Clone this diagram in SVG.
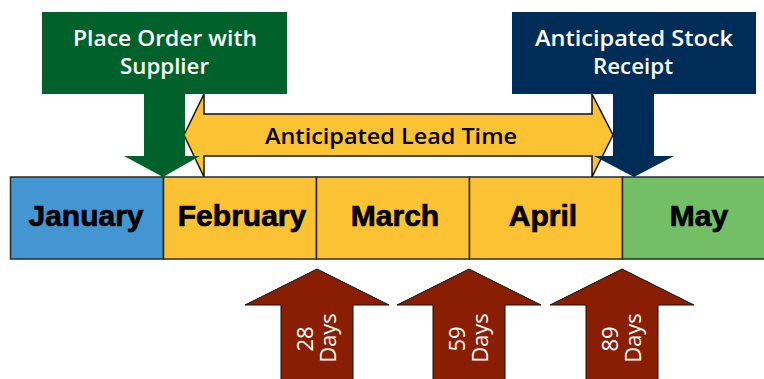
<svg xmlns="http://www.w3.org/2000/svg" width="764" height="379" viewBox="0 0 764 379">
<style>
.cell{stroke:#2a2a2a;stroke-width:1.5}
.month{font-family:"Liberation Sans",Arial,sans-serif;font-weight:bold;font-size:30px;fill:#000;stroke:#000;stroke-width:0.7;text-anchor:middle}
.lbl{font-family:"Open Sans","Noto Sans",sans-serif;font-weight:600;font-size:22px;fill:#fff;text-anchor:middle}
.lead{font-family:"Open Sans","Noto Sans",sans-serif;font-weight:600;font-size:22px;fill:#000;text-anchor:middle}
.days{font-family:"Open Sans","Noto Sans",sans-serif;font-size:22px;fill:#fff;text-anchor:middle}
.red{fill:#8A1E03;stroke:#111;stroke-width:1}
</style>
<rect width="764" height="379" fill="#fff"/>
<g id="lead-time">
<path d="M184,135 L204,94 V114 H592 V94 L613,135 L592,177 V156 H204 V177 Z" fill="#FBC234" stroke="#111" stroke-width="1.5"/>
<text class="lead" x="391" y="144" textLength="252" lengthAdjust="spacingAndGlyphs">Anticipated Lead Time</text>
</g>
<g id="timeline">
<g id="january"><rect class="cell" x="10.5" y="177" width="153" height="82" fill="#4496D3"/><text class="month" x="86" y="226">January</text></g>
<g id="february"><rect class="cell" x="163.5" y="177" width="153" height="82" fill="#FBC234"/><text class="month" x="242" y="226">February</text></g>
<g id="march"><rect class="cell" x="316.5" y="177" width="153" height="82" fill="#FBC234"/><text class="month" x="395" y="226">March</text></g>
<g id="april"><rect class="cell" x="469.5" y="177" width="153" height="82" fill="#FBC234"/><text class="month" x="543" y="226">April</text></g>
<g id="may"><rect class="cell" x="622.5" y="177" width="160" height="82" fill="#72BF66"/><text class="month" x="699" y="226">May</text></g>
</g>
<g id="place-order">
<path d="M42,12 H287 V94 H185 V156 H200 L163,177 L124,156 H144 V94 H42 Z" fill="#00622A"/>
<text class="lbl" x="165" y="46" textLength="184" lengthAdjust="spacingAndGlyphs">Place Order with</text>
<text class="lbl" x="164.5" y="74" textLength="89" lengthAdjust="spacingAndGlyphs">Supplier</text>
</g>
<g id="stock-receipt">
<path d="M512,12 H756 V94 H654 V156 H674 L634,177 L594,156 H613 V94 H512 Z" fill="#002D57"/>
<text class="lbl" x="634" y="46" textLength="198" lengthAdjust="spacingAndGlyphs">Anticipated Stock</text>
<text class="lbl" x="633" y="74" textLength="80" lengthAdjust="spacingAndGlyphs">Receipt</text>
</g>
<g id="day28">
<path class="red" d="M281,380 V305 H245 L317,269 L389,305 H353 V380"/>
<text class="days" transform="translate(313,339) rotate(-90)">28</text>
<text class="days" transform="translate(336,338) rotate(-90)">Days</text>
</g>
<g id="day59">
<path class="red" d="M433,380 V305 H397 L469,269 L541,305 H505 V380"/>
<text class="days" transform="translate(465,339) rotate(-90)">59</text>
<text class="days" transform="translate(488,338) rotate(-90)">Days</text>
</g>
<g id="day89">
<path class="red" d="M586,380 V305 H550 L622,269 L694,305 H658 V380"/>
<text class="days" transform="translate(618,339) rotate(-90)">89</text>
<text class="days" transform="translate(641,338) rotate(-90)">Days</text>
</g>
<g id="connectors"></g>
</svg>
